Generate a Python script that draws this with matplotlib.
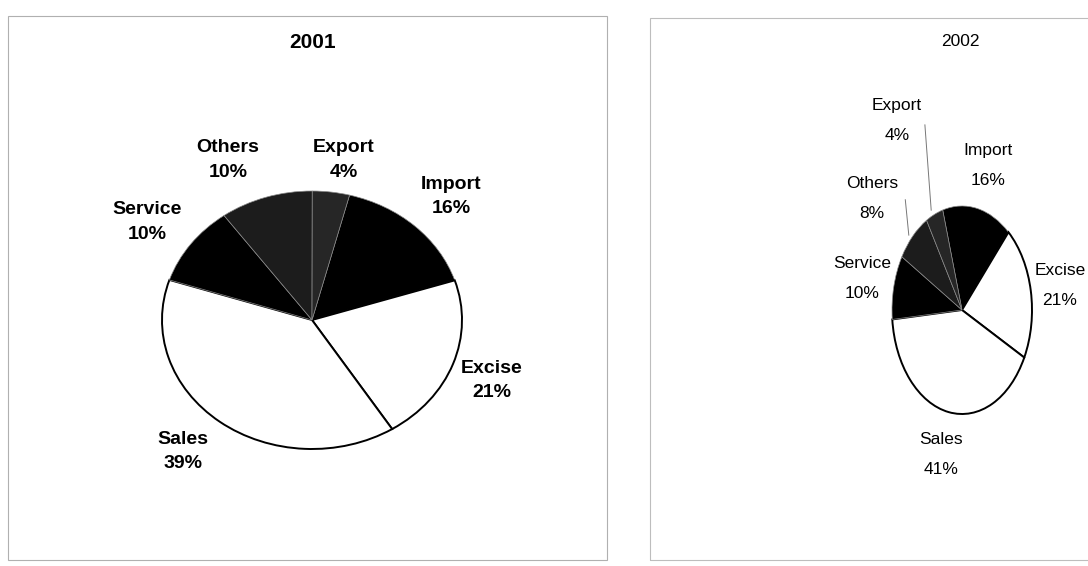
import matplotlib
matplotlib.use("Agg")
import matplotlib.pyplot as plt
from matplotlib.patches import Rectangle

# data (clockwise order starting at Import)
names = ["Import", "Excise", "Sales", "Service", "Others", "Export"]
share_2001 = [16, 21, 39, 10, 10, 4]
share_2002 = [16, 21, 41, 10, 8, 4]
colors = ["black", "white", "white", "black", "#1c1c1c", "#262626"]

# label spots in pie units (radius 1)
pos_2001 = [(0.93, 0.96), (1.20, -0.47), (-0.86, -1.02), (-1.10, 0.76), (-0.56, 1.24), (0.21, 1.24)]
pos_2002 = [(0.37, 1.39), (1.40, 0.24), (-0.30, -1.39), (-1.43, 0.30), (-1.29, 1.07), (-0.93, 1.82)]
# leader lines 2002 (Others, Export)
leaders_2002 = [((-0.81, 1.06), (-0.76, 0.72)), ((-0.53, 1.78), (-0.44, 0.96))]

fig = plt.figure(figsize=(10.88, 5.66), dpi=100)
W, H = 1088, 566

def px_axes(x0, y0, x1, y1):
    # pixel box (top-down) -> figure axes
    return fig.add_axes([x0 / W, (H - y1) / H, (x1 - x0) / W, (y1 - y0) / H])

# faint panel frames
fig.patches.append(Rectangle((8 / W, (H - 560) / H), (607 - 8) / W, (560 - 16) / H,
                             transform=fig.transFigure, fill=False, edgecolor="#b0b0b0", lw=0.8))
fig.patches.append(Rectangle((650 / W, (H - 560) / H), (1100 - 650) / W, (560 - 18) / H,
                             transform=fig.transFigure, fill=False, edgecolor="#bdbdbd", lw=0.8))

def draw_pie(ax, vals, start, positions, fsize, lspace, weight):
    wedges, _ = ax.pie(vals, startangle=start, counterclock=False, colors=colors,
                       radius=1, wedgeprops=dict(edgecolor="black", linewidth=1.4))
    for w, c in zip(wedges, colors):
        if c != "white":
            w.set_edgecolor("#8a8a8a")
            w.set_linewidth(0.5)
    ax.set_aspect("auto")
    ax.set_xlim(-1, 1)
    ax.set_ylim(-1, 1)
    ax.axis("off")
    for n, v, (x, y) in zip(names, vals, positions):
        ax.text(x, y, f"{n}\n{v}%", ha="center", va="center", fontsize=fsize,
                family=["Liberation Sans", "DejaVu Sans"], fontweight=weight,
                linespacing=lspace, clip_on=False)

ax1 = px_axes(162, 191, 462, 449)
draw_pie(ax1, share_2001, 75.5, pos_2001, 14, 1.55, "bold")
fig.text(313 / W, 1 - 42 / H, "2001", ha="center", va="center", fontsize=15,
         fontweight="bold", family=["Liberation Sans", "DejaVu Sans"])

ax2 = px_axes(892, 206, 1032, 414)
draw_pie(ax2, share_2002, 106, pos_2002, 12.5, 2.25, "normal")
for (a, b) in leaders_2002:
    ax2.plot([a[0], b[0]], [a[1], b[1]], color="#777777", lw=0.7, clip_on=False)
fig.text(960 / W, 1 - 42 / H, "2002", ha="center", va="center", fontsize=12.5,
         family=["Liberation Sans", "DejaVu Sans"])

fig.savefig("out.png", dpi=100, facecolor="white")
